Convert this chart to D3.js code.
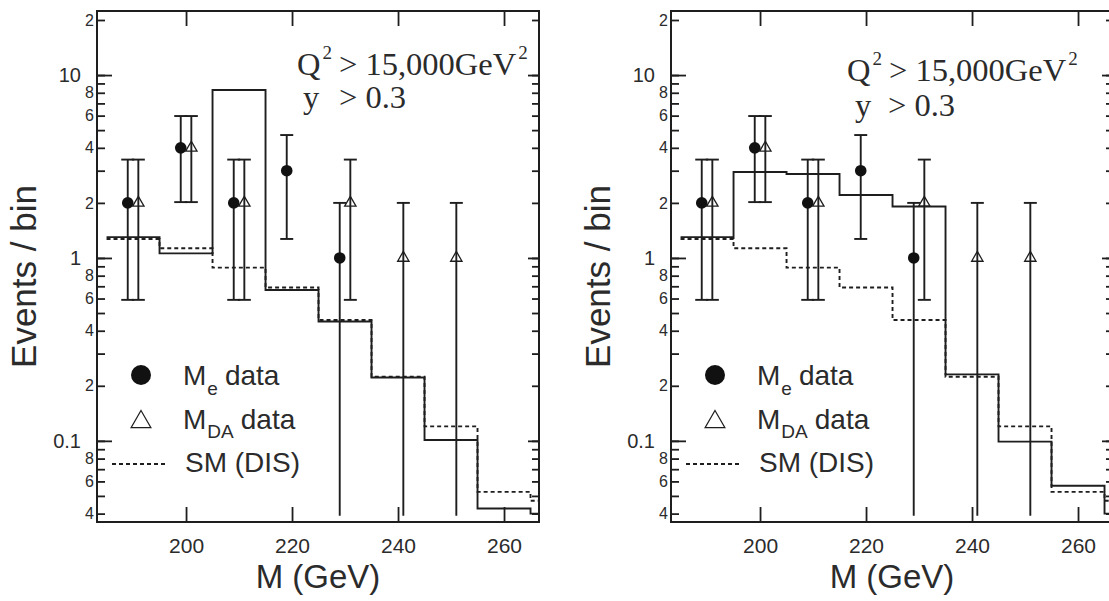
<!DOCTYPE html>
<html>
<head>
<meta charset="utf-8">
<script src="https://cdn.jsdelivr.net/npm/d3@7"></script>
<style>
  body { margin: 0; background: #fff; }
  svg { display: block; }
  text { white-space: pre; }
  .tick line { stroke: #1e1e1e; stroke-width: 1.8; }
  .lbl-major text { font-family: "Liberation Sans", Arial, sans-serif; font-size: 20px; fill: #2b2b2b; }
  .lbl-minor text { font-family: "Liberation Sans", Arial, sans-serif; font-size: 16px; fill: #2b2b2b; }
  .x-lbl text { font-family: "Liberation Sans", Arial, sans-serif; font-size: 21px; fill: #2b2b2b; }
  .title { font-family: "Liberation Sans", Arial, sans-serif; font-size: 33px; fill: #2b2b2b; }
  .ytitle { font-family: "Liberation Sans", Arial, sans-serif; font-size: 35px; fill: #2b2b2b; }
  .legend { font-family: "Liberation Sans", Arial, sans-serif; font-size: 28px; fill: #2b2b2b; }
  .legend-sub { font-family: "Liberation Sans", Arial, sans-serif; font-size: 19px; fill: #2b2b2b; }
  .cut { font-family: "Liberation Serif", "Times New Roman", serif; font-size: 32.5px; fill: #2b2b2b; }
  .cut-sup { font-family: "Liberation Serif", "Times New Roman", serif; font-size: 19px; fill: #2b2b2b; }
</style>
</head>
<body>
<div class="g-chart"></div>
<script>
//Bin edges of the histograms (GeV)
var binEdges = [185, 195, 205, 215, 225, 235, 245, 255, 265, 275];

//SM (DIS) expectation, same in both panels
var smDis = [1.27, 1.13, 0.885, 0.69, 0.458, 0.224, 0.12, 0.0526, 0.047];

//Solid histograms (SM + signal)
var leftModel  = [1.30, 1.06, 8.28, 0.668, 0.449, 0.222, 0.101, 0.0427, 0.040];
var rightModel = [1.30, 2.95, 2.88, 2.21, 1.91, 0.231, 0.099, 0.0568, 0.040];

//M_e data
var meMass = [189, 199, 209, 219, 229];
var meVal  = [2, 4, 2, 3, 1];
var meHi   = [3.45, 5.97, 3.45, 4.7, 2.0];
var meLo   = [0.59, 2.02, 0.59, 1.27, 0.039];

//M_DA data
var daMass = [191, 201, 211, 231, 241, 251];
var daVal  = [2, 4, 2, 2, 1, 1];
var daHi   = [3.45, 5.97, 3.45, 3.45, 2.0, 2.0];
var daLo   = [0.59, 2.02, 0.59, 0.59, 0.039, 0.039];

//Tick values and labels
var xTicks = [200, 220, 240, 260];
var yMajorTicks  = [0.1, 1, 10];
var yMajorLabels = ["0.1", "1", "10"];
var yMinorLabelTicks = [0.04, 0.06, 0.08, 0.2, 0.4, 0.6, 0.8, 2, 4, 6, 8, 20];
var yMinorLabels     = ["4", "6", "8", "2", "4", "6", "8", "2", "4", "6", "8", "2"];

//Margin conventions
var width = 442, height = 511;
var panelTop = 11;
var panels = [
  {left: 97,  model: leftModel,  cut: {x: 200, y: 64, dy: 33, yx: 6,  gx: 42}},
  {left: 671, model: rightModel, cut: {x: 176, y: 70, dy: 35, yx: 8,  gx: 41}}
];

var svg = d3.select(".g-chart").append("svg")
  .attr("width", 1109)
  .attr("height", 601);

var xScale = d3.scaleLinear().domain([183.2, 266.6]).range([0, width]);
var yScale = d3.scaleLog().domain([0.036, 22.4]).range([height, 0]);

var ink = "#1e1e1e";
var capW = 6.5;

//Puts pieces of text one after another, sub/superscripts shifted
function textRun(parent, x, y, pieces) {
  var cx = x;
  pieces.forEach(function(pc) {
    var t = parent.append("text")
      .attr("class", pc.cls)
      .attr("x", cx)
      .attr("y", y + (pc.dy || 0))
      .text(pc.t);
    cx += t.node().getComputedTextLength() + (pc.gap || 0);
  });
}

panels.forEach(function(p, i) {

  var g = svg.append("g")
    .attr("transform", "translate(" + p.left + "," + panelTop + ")");

  //clip region
  g.append("clipPath").attr("id", "clip" + i)
    .append("rect").attr("width", width).attr("height", height);

  var plot = g.append("g").attr("clip-path", "url(#clip" + i + ")");

  //Histograms
  var step = d3.line()
    .x(function(d) { return xScale(d[0]); })
    .y(function(d) { return yScale(d[1]); })
    .curve(d3.curveStepAfter);

  function histPoints(vals) {
    var pts = vals.map(function(v, k) { return [binEdges[k], v]; });
    pts.push([binEdges[binEdges.length - 1], vals[vals.length - 1]]);
    return pts;
  }

  plot.append("path")
    .attr("d", step(histPoints(smDis)))
    .attr("fill", "none")
    .attr("stroke", ink)
    .attr("stroke-width", 1.9)
    .attr("stroke-dasharray", "4,3");

  plot.append("path")
    .attr("d", step(histPoints(p.model)))
    .attr("fill", "none")
    .attr("stroke", ink)
    .attr("stroke-width", 1.9);

  //Error bars
  function errorBars(mass, hi, lo) {
    var eb = plot.append("g");
    mass.forEach(function(m, k) {
      var x = xScale(m);
      eb.append("line")
        .attr("x1", x).attr("x2", x)
        .attr("y1", yScale(hi[k])).attr("y2", yScale(lo[k]))
        .attr("stroke", ink).attr("stroke-width", 1.9);
      eb.append("line")
        .attr("x1", x - capW).attr("x2", x + capW)
        .attr("y1", yScale(hi[k])).attr("y2", yScale(hi[k]))
        .attr("stroke", ink).attr("stroke-width", 1.9);
      if (lo[k] > 0.05) {
        eb.append("line")
          .attr("x1", x - capW).attr("x2", x + capW)
          .attr("y1", yScale(lo[k])).attr("y2", yScale(lo[k]))
          .attr("stroke", ink).attr("stroke-width", 1.9);
      }
    });
  }
  errorBars(meMass, meHi, meLo);
  errorBars(daMass, daHi, daLo);

  //Markers
  plot.selectAll(".me").data(meMass).enter().append("circle")
    .attr("cx", function(d) { return xScale(d); })
    .attr("cy", function(d, k) { return yScale(meVal[k]); })
    .attr("r", 5.8)
    .attr("fill", "#111");

  plot.selectAll(".da").data(daMass).enter().append("path")
    .attr("d", d3.symbol().type(d3.symbolTriangle).size(56))
    .attr("transform", function(d, k) {
      return "translate(" + xScale(d) + "," + yScale(daVal[k]) + ")";
    })
    .attr("fill", "none")
    .attr("stroke", ink)
    .attr("stroke-width", 1.3);

  //Axes (ticks inside)
  g.append("g").call(d3.axisLeft(yScale).tickValues(yScale.ticks()).tickSize(-8).tickFormat(""));
  g.append("g").attr("class", "lbl-major")
    .call(d3.axisLeft(yScale).tickValues(yMajorTicks).tickSize(-15).tickPadding(16)
      .tickFormat(function(d, k) { return yMajorLabels[k]; }));
  g.append("g").attr("class", "lbl-minor")
    .call(d3.axisLeft(yScale).tickValues(yMinorLabelTicks).tickSize(0).tickPadding(3)
      .tickFormat(function(d, k) { return yMinorLabels[k]; }));

  g.append("g").attr("transform", "translate(" + width + ",0)")
    .call(d3.axisRight(yScale).tickValues(yScale.ticks()).tickSize(-7).tickFormat(""));
  g.append("g").attr("transform", "translate(" + width + ",0)")
    .call(d3.axisRight(yScale).tickValues(yMajorTicks).tickSize(-11).tickFormat(""));

  g.append("g")
    .call(d3.axisTop(xScale).tickValues(xTicks).tickSize(-15).tickFormat(""));
  g.append("g").attr("class", "x-lbl")
    .attr("transform", "translate(0," + height + ")")
    .call(d3.axisBottom(xScale).tickValues(xTicks).tickSize(-15).tickPadding(16));

  g.selectAll(".domain").remove();

  //Frame
  g.append("rect")
    .attr("width", width).attr("height", height)
    .attr("fill", "none").attr("stroke", ink).attr("stroke-width", 2);

  //Axis titles
  g.append("text").attr("class", "ytitle")
    .attr("transform", "translate(" + (-61) + "," + (height / 2 + 10) + ") rotate(-90)")
    .attr("text-anchor", "middle")
    .text("Events / bin");

  g.append("text").attr("class", "title")
    .attr("x", width / 2).attr("y", 577)
    .attr("text-anchor", "middle")
    .text("M (GeV)");

  //Cut annotation
  textRun(g, p.cut.x, p.cut.y, [
    {t: "Q", cls: "cut", gap: 2},
    {t: "2", cls: "cut-sup", dy: -16, gap: 7},
    {t: "> 15,000GeV", cls: "cut", gap: 2},
    {t: "2", cls: "cut-sup", dy: -16}
  ]);
  g.append("text").attr("class", "cut")
    .attr("x", p.cut.x + p.cut.yx).attr("y", p.cut.y + p.cut.dy).text("y");
  g.append("text").attr("class", "cut")
    .attr("x", p.cut.x + p.cut.gx).attr("y", p.cut.y + p.cut.dy).text("> 0.3");

  //Legend
  var lg = g.append("g");
  lg.append("circle").attr("cx", 44).attr("cy", 364).attr("r", 10).attr("fill", "#111");
  textRun(lg, 86, 374, [
    {t: "M", cls: "legend", gap: 1},
    {t: "e", cls: "legend-sub", dy: 10, gap: 7},
    {t: "data", cls: "legend"}
  ]);

  lg.append("path")
    .attr("d", d3.symbol().type(d3.symbolTriangle).size(170))
    .attr("transform", "translate(44,411)")
    .attr("fill", "none").attr("stroke", ink).attr("stroke-width", 1.2);
  textRun(lg, 86, 418, [
    {t: "M", cls: "legend", gap: 1},
    {t: "DA", cls: "legend-sub", dy: 9, gap: 7},
    {t: "data", cls: "legend"}
  ]);

  lg.append("line")
    .attr("x1", 15).attr("x2", 68).attr("y1", 453).attr("y2", 453)
    .attr("stroke", ink).attr("stroke-width", 1.8).attr("stroke-dasharray", "4,3");
  lg.append("text").attr("class", "legend").attr("x", 88).attr("y", 461).text("SM (DIS)");
});
</script>
</body>
</html>
